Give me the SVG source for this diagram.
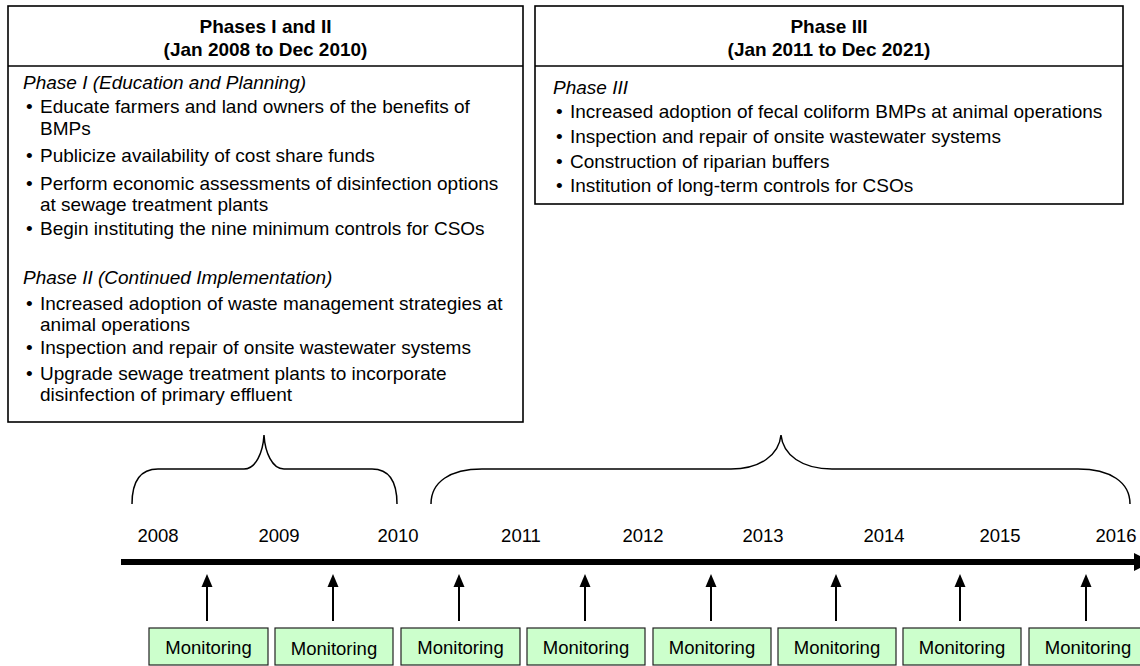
<svg xmlns="http://www.w3.org/2000/svg" width="1140" height="666" viewBox="0 0 1140 666">
  <style>
    text { font-family: "Liberation Sans", Arial, sans-serif; fill: #000; }
    .title { font-size: 19px; font-weight: bold; text-anchor: middle; }
    .sub { font-size: 19px; font-style: italic; }
    .body { font-size: 19px; }
    .year { font-size: 18.5px; text-anchor: middle; }
    .mon { font-size: 18.5px; text-anchor: middle; }
    .frame { fill: #fff; stroke: #000; stroke-width: 1.6; }
    .rule { stroke: #000; stroke-width: 1.6; }
    .brace { fill: none; stroke: #000; stroke-width: 1.5; }
    .tick { stroke: #000; stroke-width: 2; }
    .head { fill: #000; }
    .mbox { fill: #ccffcc; stroke: #222; stroke-width: 1.2; }
  </style>

  <!-- Phases I and II -->
  <g id="phases-1-2">
    <rect class="frame" x="8" y="6" width="515" height="416"/>
    <line class="rule" x1="8" y1="66" x2="523" y2="66"/>
    <text class="title" x="265.5" y="33">Phases I and II</text>
    <text class="title" x="265.5" y="56">(Jan 2008 to Dec 2010)</text>
    <text class="sub" x="23" y="89">Phase I (Education and Planning)</text>
    <text class="body" x="26" y="113">•</text>
    <text class="body" x="40" y="113">Educate farmers and land owners of the benefits of</text>
    <text class="body" x="40" y="135">BMPs</text>
    <text class="body" x="26" y="162">•</text>
    <text class="body" x="40" y="162">Publicize availability of cost share funds</text>
    <text class="body" x="26" y="190">•</text>
    <text class="body" x="40" y="190">Perform economic assessments of disinfection options</text>
    <text class="body" x="40" y="211">at sewage treatment plants</text>
    <text class="body" x="26" y="235">•</text>
    <text class="body" x="40" y="235">Begin instituting the nine minimum controls for CSOs</text>
    <text class="sub" x="23" y="284">Phase II (Continued Implementation)</text>
    <text class="body" x="26" y="310">•</text>
    <text class="body" x="40" y="310">Increased adoption of waste management strategies at</text>
    <text class="body" x="40" y="331">animal operations</text>
    <text class="body" x="26" y="354">•</text>
    <text class="body" x="40" y="354">Inspection and repair of onsite wastewater systems</text>
    <text class="body" x="26" y="380">•</text>
    <text class="body" x="40" y="380">Upgrade sewage treatment plants to incorporate</text>
    <text class="body" x="40" y="401">disinfection of primary effluent</text>
  </g>

  <!-- Phase III -->
  <g id="phase-3">
    <rect class="frame" x="535" y="6" width="588" height="198"/>
    <line class="rule" x1="535" y1="66" x2="1123" y2="66"/>
    <text class="title" x="829" y="33">Phase III</text>
    <text class="title" x="829" y="56">(Jan 2011 to Dec 2021)</text>
    <text class="sub" x="553" y="94">Phase III</text>
    <text class="body" x="556" y="118">•</text>
    <text class="body" x="570" y="118">Increased adoption of fecal coliform BMPs at animal operations</text>
    <text class="body" x="556" y="143">•</text>
    <text class="body" x="570" y="143">Inspection and repair of onsite wastewater systems</text>
    <text class="body" x="556" y="168">•</text>
    <text class="body" x="570" y="168">Construction of riparian buffers</text>
    <text class="body" x="556" y="192">•</text>
    <text class="body" x="570" y="192">Institution of long-term controls for CSOs</text>
  </g>

  <!-- Braces grouping the years under each phase -->
  <g id="brace-1-2">
    <path class="brace" d="M132,504 C132,482 140,469 158,469 L244,469 C256,469 263,452 264,435 C265,452 272,469 284,469 L372,469 C390,469 397,482 397,504"/>
  </g>
  <g id="brace-3">
    <path class="brace" d="M431,504 C431,482 450,469 482,469 L731,469 C760,469 779,455 781,435 C783,455 802,469 832,469 L1078,469 C1110,469 1130,482 1130,504"/>
  </g>

  <!-- Year axis -->
  <g id="timeline">
    <line x1="121" y1="562" x2="1138" y2="562" stroke="#000" stroke-width="6"/>
    <path d="M1134,553 L1152,562 L1134,571 Z" fill="#000"/>
    <text class="year" x="158" y="541.5">2008</text>
    <text class="year" x="279" y="541.5">2009</text>
    <text class="year" x="398" y="541.5">2010</text>
    <text class="year" x="521" y="541.5">2011</text>
    <text class="year" x="643" y="541.5">2012</text>
    <text class="year" x="763" y="541.5">2013</text>
    <text class="year" x="884" y="541.5">2014</text>
    <text class="year" x="1000" y="541.5">2015</text>
    <text class="year" x="1116" y="541.5">2016</text>
  </g>

  <!-- Monitoring events -->
  <g id="monitoring-1"><rect class="mbox" x="149" y="628" width="119" height="37"/><text class="mon" x="208.5" y="653.5">Monitoring</text></g>
  <g id="monitoring-2"><rect class="mbox" x="275" y="628" width="118" height="37"/><text class="mon" x="334" y="655">Monitoring</text></g>
  <g id="monitoring-3"><rect class="mbox" x="401" y="628" width="119" height="37"/><text class="mon" x="460.5" y="653.5">Monitoring</text></g>
  <g id="monitoring-4"><rect class="mbox" x="527" y="628" width="118" height="37"/><text class="mon" x="586" y="653.5">Monitoring</text></g>
  <g id="monitoring-5"><rect class="mbox" x="653" y="628" width="118" height="37"/><text class="mon" x="712" y="653.5">Monitoring</text></g>
  <g id="monitoring-6"><rect class="mbox" x="778" y="628" width="118" height="37"/><text class="mon" x="837" y="653.5">Monitoring</text></g>
  <g id="monitoring-7"><rect class="mbox" x="903" y="628" width="118" height="37"/><text class="mon" x="962" y="653.5">Monitoring</text></g>
  <g id="monitoring-8"><rect class="mbox" x="1029" y="628" width="118" height="37"/><text class="mon" x="1088" y="653.5">Monitoring</text></g>

  <!-- Connectors from each monitoring event up to the axis -->
  <g id="connectors">
    <line class="tick" x1="207" y1="621" x2="207" y2="586"/><path class="head" d="M201.5,587 L207,574 L212.5,587 Z"/>
    <line class="tick" x1="333" y1="621" x2="333" y2="586"/><path class="head" d="M327.5,587 L333,574 L338.5,587 Z"/>
    <line class="tick" x1="459" y1="621" x2="459" y2="586"/><path class="head" d="M453.5,587 L459,574 L464.5,587 Z"/>
    <line class="tick" x1="585" y1="621" x2="585" y2="586"/><path class="head" d="M579.5,587 L585,574 L590.5,587 Z"/>
    <line class="tick" x1="711" y1="621" x2="711" y2="586"/><path class="head" d="M705.5,587 L711,574 L716.5,587 Z"/>
    <line class="tick" x1="836" y1="621" x2="836" y2="586"/><path class="head" d="M830.5,587 L836,574 L841.5,587 Z"/>
    <line class="tick" x1="960" y1="621" x2="960" y2="586"/><path class="head" d="M954.5,587 L960,574 L965.5,587 Z"/>
    <line class="tick" x1="1086" y1="621" x2="1086" y2="586"/><path class="head" d="M1080.5,587 L1086,574 L1091.5,587 Z"/>
  </g>
</svg>
